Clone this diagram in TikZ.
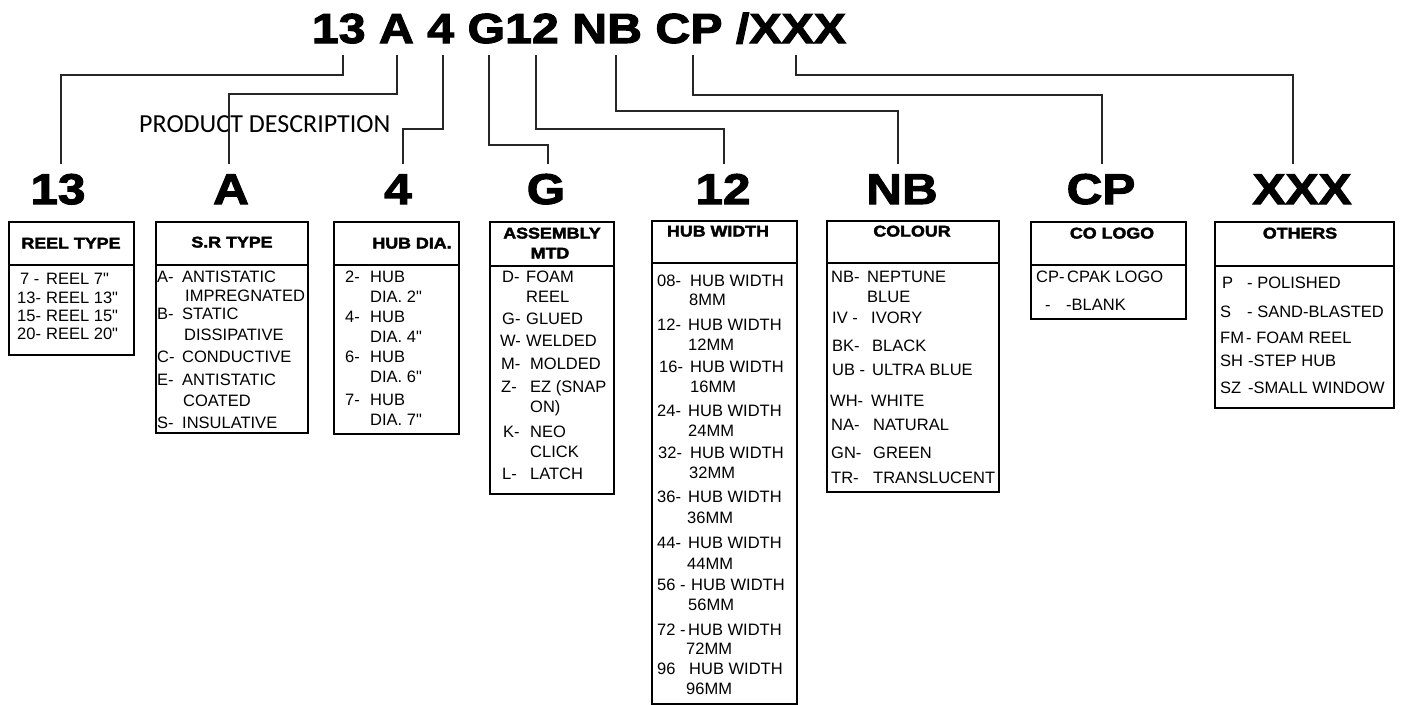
\documentclass[tikz,border=0pt]{standalone}
\usepackage{fontspec}
\setmainfont{Liberation Sans}[Ligatures=TeXOff]
\newfontfamily\heavy[FakeStretch=1.15,FakeBold=2.5]{Liberation Sans Bold}
\newfontfamily\heavyhd[FakeStretch=1.15,FakeBold=2.5]{Liberation Sans Bold}
\newfontfamily\calib{Carlito}
\newcommand\inch{"}
\tikzset{
  conn/.style={line width=1.5pt, black!85},
  boxsty/.style={draw, line width=1.7pt, anchor=north west, inner sep=0pt},
  divline/.style={line width=1.7pt},
  bt/.style={anchor=base west, inner sep=0pt, font=\fontsize{16.5}{18}\selectfont, yshift=-5.9pt},
  hd/.style={anchor=base, inner sep=0pt, font=\heavyhd\fontsize{15.5}{17}\selectfont, yshift=-5.5pt},
  big/.style={anchor=base, inner xsep=0pt, inner ysep=10pt, font=\heavy\fontsize{43}{46}\selectfont},
  titletxt/.style={anchor=base, inner sep=0pt, font=\heavy\fontsize{42}{44}\selectfont},
}
\newcommand\tbox[6]{%
  \node[boxsty, minimum width={#4pt-#2pt}, minimum height={#5pt-#3pt}] (#1) at (#2,#3) {};
  \draw[divline] (#1.west |- 0,#6) -- (#1.east |- 0,#6);}
\newcommand\ent[6]{%
  \node[bt] (#1a) at (#2,#4) {#5};
  \node[bt] (#1b) at (#3,#4) {#6};}
\newcommand\cont[4]{\node[bt] (#1) at (#2,#3) {#4};}
\begin{document}
\begin{tikzpicture}[x=1pt,y=-1pt]
\fill[white] (0,0) rectangle (1407,704);
\useasboundingbox (0,0) rectangle (1407,704);
% title
\node[titletxt] (code) at (579,43) {13 A 4 G12 NB CP /XXX};
\coordinate (t1) at (343,55);
\coordinate (t2) at (397,55);
\coordinate (t3) at (443,55);
\coordinate (t4) at (489,55);
\coordinate (t5) at (536,55);
\coordinate (t6) at (616,55);
\coordinate (t7) at (693,55);
\coordinate (t8) at (796,55);
\node[anchor=base west, inner sep=0pt, font=\calib\fontsize{26}{28}\selectfont] (pd) at (139,132) {PRODUCT DESCRIPTION};
% big labels
\node[big] (l1) at (58,204) {13};
\node[big] (l2) at (231,204) {A};
\node[big] (l3) at (398,204) {4};
\node[big] (l4) at (546,204) {G};
\node[big] (l5) at (723,204) {12};
\node[big] (l6) at (902,204) {NB};
\node[big] (l7) at (1101,204) {CP};
\node[big] (l8) at (1302,204) {XXX};
% connectors
\draw[conn] (t1) -- ++(0,20) -| ([xshift=3pt]l1.north);
\draw[conn] (t2) -- ++(0,39) -| ([xshift=-2pt]l2.north);
\draw[conn] (t3) -- ++(0,74) -| ([xshift=5pt]l3.north);
\draw[conn] (t4) -- ++(0,90) -| ([xshift=2pt]l4.north);
\draw[conn] (t5) -- ++(0,74) -| ([xshift=1pt]l5.north);
\draw[conn] (t6) -- ++(0,56) -| ([xshift=-4pt]l6.north);
\draw[conn] (t7) -- ++(0,40) -| ([xshift=1pt]l7.north);
\draw[conn] (t8) -- ++(0,20) -| ([xshift=-9pt]l8.north);
% REEL TYPE
\tbox{b1}{8}{221}{133}{354}{265}
\node[hd] (h1) at (71,243) {REEL TYPE};
\ent{r1}{20}{46}{279}{7 -}{REEL 7\inch}
\ent{r2}{17}{46}{298}{13-}{REEL 13\inch}
\ent{r3}{17}{46}{316}{15-}{REEL 15\inch}
\ent{r4}{17}{46}{334}{20-}{REEL 20\inch}
% S.R TYPE
\tbox{b2}{155}{221}{307}{432}{265}
\node[hd] (h2) at (232,242) {S.R TYPE};
\ent{s1}{157}{182}{277}{A-}{ANTISTATIC}
\cont{s1c}{185}{296}{IMPREGNATED}
\ent{s2}{157}{182}{314}{B-}{STATIC}
\cont{s2c}{184}{335}{DISSIPATIVE}
\ent{s3}{157}{182}{357}{C-}{CONDUCTIVE}
\ent{s4}{157}{182}{380}{E-}{ANTISTATIC}
\cont{s4c}{183}{401}{COATED}
\ent{s5}{157}{182}{423}{S-}{INSULATIVE}
% HUB DIA
\tbox{b3}{333}{221}{458}{433}{265}
\node[hd] (h3) at (412,243) {HUB DIA.};
\ent{d1}{345}{370}{277}{2-}{HUB}
\cont{d1c}{370}{297}{DIA. 2\inch}
\ent{d2}{345}{370}{317}{4-}{HUB}
\cont{d2c}{370}{337}{DIA. 4\inch}
\ent{d3}{345}{370}{357}{6-}{HUB}
\cont{d3c}{370}{377}{DIA. 6\inch}
\ent{d4}{345}{370}{400}{7-}{HUB}
\cont{d4c}{370}{420}{DIA. 7\inch}
% ASSEMBLY MTD
\tbox{b4}{489}{221}{613}{493}{266}
\node[hd] (h4a) at (552,233) {ASSEMBLY};
\node[hd] (h4b) at (550,253) {MTD};
\ent{a1}{502}{526}{277}{D-}{FOAM}
\cont{a1c}{526}{297}{REEL}
\ent{a2}{502}{526}{319}{G-}{GLUED}
\ent{a3}{500}{526}{341}{W-}{WELDED}
\ent{a4}{501}{530}{364}{M-}{MOLDED}
\ent{a5}{501}{530}{387}{Z-}{EZ (SNAP}
\cont{a5c}{530}{407}{ON)}
\ent{a6}{503}{530}{432}{K-}{NEO}
\cont{a6c}{530}{452}{CLICK}
\ent{a7}{502}{530}{474}{L-}{LATCH}
% HUB WIDTH
\tbox{b5}{651}{220}{796}{703}{263}
\node[hd] (h5) at (718,231) {HUB WIDTH};
\ent{w1}{657}{690}{281}{08-}{HUB WIDTH}
\cont{w1c}{689}{300}{8MM}
\ent{w2}{657}{688}{325}{12-}{HUB WIDTH}
\cont{w2c}{688}{345}{12MM}
\ent{w3}{659}{690}{367}{16-}{HUB WIDTH}
\cont{w3c}{690}{387}{16MM}
\ent{w4}{657}{688}{411}{24-}{HUB WIDTH}
\cont{w4c}{688}{431}{24MM}
\ent{w5}{658}{690}{453}{32-}{HUB WIDTH}
\cont{w5c}{689}{473}{32MM}
\ent{w6}{657}{688}{497}{36-}{HUB WIDTH}
\cont{w6c}{687}{518}{36MM}
\ent{w7}{657}{688}{543}{44-}{HUB WIDTH}
\cont{w7c}{687}{564}{44MM}
\ent{w8}{657}{691}{585}{56 -}{HUB WIDTH}
\cont{w8c}{688}{605}{56MM}
\ent{w9}{657}{688}{630}{72 -}{HUB WIDTH}
\cont{w9c}{686}{649}{72MM}
\ent{w10}{657}{689}{669}{96}{HUB WIDTH}
\cont{w10c}{686}{689}{96MM}
% COLOUR
\tbox{b6}{826}{220}{998}{491}{263}
\node[hd] (h6) at (912,231) {COLOUR};
\ent{c1}{831}{867}{277}{NB-}{NEPTUNE}
\cont{c1c}{867}{297}{BLUE}
\ent{c2}{832}{871}{318}{IV -}{IVORY}
\ent{c3}{832}{872}{346}{BK-}{BLACK}
\ent{c4}{832}{872}{370}{UB -}{ULTRA BLUE}
\ent{c5}{830}{871}{401}{WH-}{WHITE}
\ent{c6}{831}{873}{425}{NA-}{NATURAL}
\ent{c7}{831}{873}{453}{GN-}{GREEN}
\ent{c8}{831}{873}{478}{TR-}{TRANSLUCENT}
% CO LOGO
\tbox{b7}{1030}{221}{1185}{318}{265}
\node[hd] (h7) at (1112,233) {CO LOGO};
\ent{o1}{1036}{1067}{277}{CP-}{CPAK LOGO}
\ent{o2}{1045}{1066}{305}{-}{-BLANK}
% OTHERS
\tbox{b8}{1214}{221}{1393}{407}{266}
\node[hd] (h8) at (1300,233) {OTHERS};
\ent{x1}{1222}{1247}{283}{P}{- POLISHED}
\ent{x2}{1220}{1247}{312}{S}{- SAND-BLASTED}
\ent{x3}{1220}{1246}{338}{FM}{- FOAM REEL}
\ent{x4}{1220}{1248}{361}{SH}{-STEP HUB}
\ent{x5}{1220}{1248}{388}{SZ}{-SMALL WINDOW}
\end{tikzpicture}
\end{document}
